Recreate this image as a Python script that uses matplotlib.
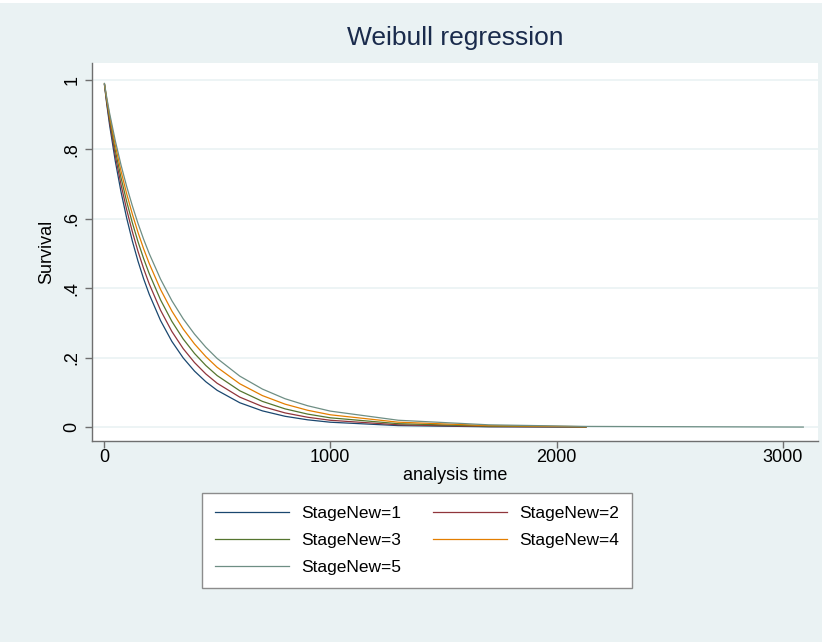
import matplotlib
matplotlib.use('Agg')
import matplotlib.pyplot as plt
from matplotlib.patches import Rectangle

plt.rcParams['font.family'] = ['Liberation Sans', 'DejaVu Sans']

# survival at these analysis times
times = [2, 12, 25, 50, 75, 100, 125, 150, 175, 200, 250, 300, 350, 400, 450,
         500, 600, 700, 800, 900, 1000, 1300, 1700, 2130]
stage1 = [0.9865, 0.9313, 0.869, 0.766, 0.6785, 0.6028, 0.5368, 0.4786, 0.4275,
          0.3825, 0.3069, 0.2468, 0.1993, 0.1613, 0.1307, 0.106, 0.0702, 0.0468,
          0.0312, 0.021, 0.0141, 0.0044, 0.00095, 0.0002]
stage2 = [0.9876, 0.9365, 0.8786, 0.7821, 0.6994, 0.6271, 0.5635, 0.507, 0.4569,
          0.4123, 0.3366, 0.2754, 0.226, 0.186, 0.1532, 0.1263, 0.0864, 0.0594,
          0.0409, 0.0284, 0.0197, 0.0067, 0.0016, 0.0004]
stage3 = [0.9885, 0.9413, 0.8875, 0.7973, 0.7192, 0.6504, 0.5894, 0.5347, 0.4857,
          0.442, 0.3665, 0.3046, 0.2539, 0.2122, 0.1775, 0.1485, 0.1047, 0.0741,
          0.0526, 0.0375, 0.0268, 0.0099, 0.0027, 0.0007]
stage4 = [0.9894, 0.9457, 0.8958, 0.8116, 0.738, 0.6727, 0.6142, 0.5615, 0.5139,
          0.4711, 0.3964, 0.3343, 0.2826, 0.2395, 0.2031, 0.1723, 0.1249, 0.0908,
          0.0662, 0.0485, 0.0355, 0.0142, 0.0043, 0.0012]
# stage 5 keeps going to the last observed time
times5 = times + [3090]
stage5 = [0.9902, 0.9499, 0.9036, 0.8249, 0.7557, 0.6938, 0.6381, 0.5874, 0.5414,
          0.4997, 0.4262, 0.3642, 0.312, 0.2679, 0.2301, 0.1978, 0.1469, 0.1096,
          0.0818, 0.0615, 0.0461, 0.0198, 0.0066, 0.002, 0.00016]

labels = ['StageNew=1', 'StageNew=2', 'StageNew=3', 'StageNew=4', 'StageNew=5']
COLORS = ['#1a476f', '#90353b', '#55752f', '#e37e00', '#6e8e84']

xticks = [0, 1000, 2000, 3000]
yticks = [0, 0.2, 0.4, 0.6, 0.8, 1]
ytick_labels = ['0', '.2', '.4', '.6', '.8', '1']

BG = '#eaf2f3'

fig = plt.figure(figsize=(8.26, 6.42), dpi=100, facecolor='white')
fig.patches.append(Rectangle((0, 0), 822 / 826, 639 / 642, transform=fig.transFigure,
                             facecolor=BG, edgecolor='none', zorder=-10))

ax = fig.add_axes([92 / 826, 1 - 441 / 642, (818 - 92) / 826, (441 - 63) / 642])
ax.set_facecolor('white')

series = [(times, stage1), (times, stage2), (times, stage3), (times, stage4), (times5, stage5)]
lines = []
for (tt, ss), lab, col in zip(series, labels, COLORS):
    ln, = ax.plot(tt, ss, color=col, lw=0.9, label=lab)
    lines.append(ln)

ax.set_xlim(-53, 3155)
ax.set_ylim(-0.04, 1.049)
ax.set_xticks(xticks)
ax.set_xticklabels([str(x) for x in xticks])
ax.set_yticks(yticks)
ax.set_yticklabels(ytick_labels, rotation=90, va='center')
ax.grid(axis='y', color=BG, lw=1.2)
ax.set_axisbelow(True)

for side in ['top', 'right']:
    ax.spines[side].set_visible(False)
for side in ['left', 'bottom']:
    ax.spines[side].set_color('#6f6f6f')
    ax.spines[side].set_linewidth(1.0)
ax.tick_params(axis='both', colors='#6f6f6f', labelcolor='black', labelsize=13,
               length=5, width=1)
ax.tick_params(axis='x', pad=1)

ax.set_xlabel('analysis time', fontsize=13, labelpad=0.5)
ax.set_ylabel('Survival', fontsize=13, labelpad=6)
ax.set_title('Weibull regression', fontsize=19, color='#1a2b4c', pad=13)

# matplotlib fills legend columns first, so order for row-wise reading
order = [0, 2, 4, 1, 3]
leg = fig.legend([lines[i] for i in order], [labels[i] for i in order],
                 loc='upper center', bbox_to_anchor=(417 / 826, 1 - 484 / 642),
                 ncol=2, fontsize=12.5, handlelength=4.3, columnspacing=1.8,
                 frameon=True, fancybox=False, borderpad=0.75, labelspacing=0.7,
                 handletextpad=0.7, framealpha=1)
leg.get_frame().set_facecolor('white')
leg.get_frame().set_edgecolor('#8c8c8c')
leg.get_frame().set_linewidth(1.0)

fig.savefig('out.png', dpi=100, facecolor=fig.get_facecolor())
